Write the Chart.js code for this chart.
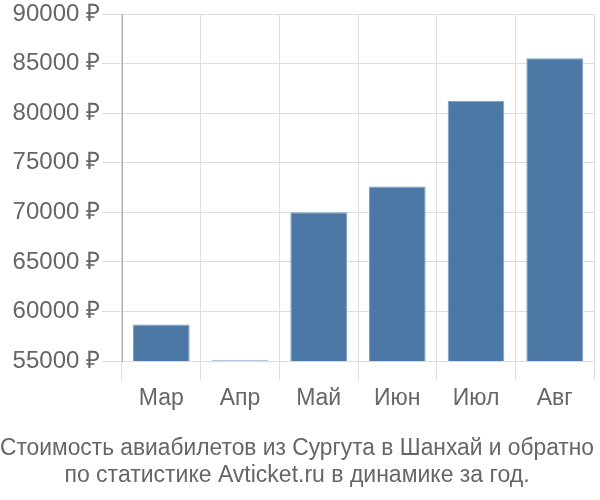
<!DOCTYPE html>
<html>
<head>
<meta charset="utf-8">
<script src="https://cdn.jsdelivr.net/npm/chart.js@4"></script>
<style>
  html, body { margin: 0; padding: 0; background: #fff; }
  #wrap { width: 600px; height: 500px; }
</style>
</head>
<body>
<div id="wrap"><canvas id="chart" width="600" height="500"></canvas></div>
<script>
// months and prices (rub)
const months = ['Мар', 'Апр', 'Май', 'Июн', 'Июл', 'Авг'];
const prices = [58700, 55100, 70000, 72600, 81250, 85550];
const yTicks = [55000, 60000, 65000, 70000, 75000, 80000, 85000, 90000];
const titleLines = ['Стоимость авиабилетов из Сургута в Шанхай и обратно', 'по статистике Avticket.ru в динамике за год.'];

const FONT = 'Liberation Sans, Arial, sans-serif';

const ctx = document.getElementById('chart');
new Chart(ctx, {
  type: 'bar',
  data: {
    labels: months,
    datasets: [{
      data: prices,
      backgroundColor: '#4c78a6',
      borderColor: '#7d9fc4',
      borderWidth: 1,
      categoryPercentage: 0.72,
      barPercentage: 1
    }]
  },
  options: {
    responsive: false,
    animation: false,
    layout: { padding: { top: 0, right: 6, left: 0, bottom: 0 } },
    plugins: {
      legend: { display: false },
      tooltip: { enabled: false },
      title: {
        display: true,
        position: 'bottom',
        text: titleLines,
        color: '#666',
        font: { family: FONT, size: 23, weight: 'normal', lineHeight: 1.18 },
        padding: { top: 17, bottom: 11 }
      }
    },
    scales: {
      x: {
        grid: { color: '#dddddd', tickLength: 19, offset: true },
        border: { color: '#dddddd' },
        ticks: { color: '#666', font: { family: FONT, size: 23 }, padding: 5 }
      },
      y: {
        min: 55000,
        max: 90000,
        afterBuildTicks: (axis) => { axis.ticks = yTicks.map(v => ({ value: v })); },
        afterFit: (axis) => { axis.width = 122; },
        grid: { color: '#dddddd', tickLength: 20 },
        border: { color: '#aaaaaa' },
        ticks: {
          color: '#666',
          font: { family: FONT, size: 24, lineHeight: 1.0 },
          padding: 2,
          callback: (v) => v + ' ₽'
        }
      }
    }
  }
});
</script>
</body>
</html>
